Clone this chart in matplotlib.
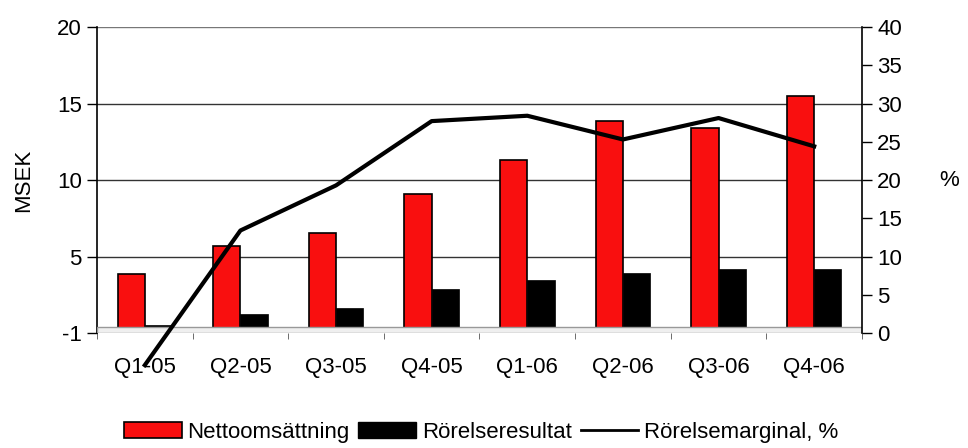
import numpy as np
import matplotlib.pyplot as plt
from matplotlib.patches import Patch
from matplotlib.lines import Line2D

plt.rcParams['font.family'] = ['Liberation Sans', 'DejaVu Sans']

# data
quarters = ['Q1-05', 'Q2-05', 'Q3-05', 'Q4-05', 'Q1-06', 'Q2-06', 'Q3-06', 'Q4-06']
netto = [3.85, 5.7, 6.55, 9.07, 11.28, 13.85, 13.4, 15.5]
resultat = [0.52, 1.22, 1.61, 2.85, 3.44, 3.89, 4.2, 4.2]
marginal = [-4.2, 13.4, 19.3, 27.7, 28.4, 25.3, 28.1, 24.4]
left_ticks = [0, 5, 10, 15, 20]
left_labels = ['-1', '5', '10', '15', '20']

x = np.arange(len(quarters))
w = 0.285
fs = 16

fig = plt.figure(figsize=(9.68, 4.48), dpi=100)
ax = fig.add_axes([0.1002, 0.2567, 0.7903, 0.683])
ax2 = ax.twinx()

ax.set_xlim(-0.5, len(quarters) - 0.5)
ax.set_ylim(0, 20)
ax2.set_ylim(0, 40)

# gridlines
for t in [5, 10, 15]:
    ax.axhline(t, color='#333333', lw=1.0, zorder=0)
ax.axhline(20, color='#777777', lw=1.0, zorder=0)

ax.bar(x - w / 2, netto, w, color='#f90f0f', edgecolor='black', lw=1.2, zorder=2)
ax.bar(x + w / 2, resultat, w, color='black', edgecolor='black', lw=0.5, zorder=2)
# floor band
ax.axhspan(0, 0.4, facecolor='#efefef', edgecolor='#999999', lw=1.0, zorder=3)

ax2.plot(x, marginal, color='black', lw=3, clip_on=False, zorder=4)

ax.set_yticks(left_ticks)
ax.set_yticklabels(left_labels)
ax2.set_yticks(range(0, 41, 5))
ax.set_xticks(x)
ax.set_xticklabels(quarters)
ax.set_xticks(np.arange(-0.5, len(quarters), 1), minor=True)
ax.tick_params(axis='x', which='major', length=0, pad=17, labelsize=fs)
ax.tick_params(axis='x', which='minor', length=4, direction='out', color='#555555')
ax.tick_params(axis='y', length=7, width=1, labelsize=fs, pad=4)
ax2.tick_params(axis='y', length=7, width=1, labelsize=fs, pad=4)

for a in (ax, ax2):
    a.spines['top'].set_visible(False)
    a.spines['bottom'].set_visible(False)
ax.spines['right'].set_visible(False)
ax2.spines['left'].set_visible(False)
ax.spines['left'].set_linewidth(1.2)
ax2.spines['right'].set_linewidth(1.2)

ax.set_ylabel('MSEK', fontsize=fs, labelpad=16)
ax2.set_ylabel('%', fontsize=fs, rotation=0, labelpad=34, va='center')

ax.set_zorder(ax2.get_zorder() - 1)
ax.patch.set_visible(True)
ax2.patch.set_visible(False)

handles = [Patch(facecolor='#f90f0f', edgecolor='black', lw=1.2),
           Patch(facecolor='black', edgecolor='black'),
           Line2D([0], [0], color='black', lw=2)]
fig.legend(handles, ['Nettoomsättning', 'Rörelseresultat', 'Rörelsemarginal, %'],
           loc='center', bbox_to_anchor=(0.497, 0.035), ncol=3, frameon=False,
           fontsize=fs, handlelength=2.6, handleheight=0.7, handletextpad=0.25,
           columnspacing=0.4)

fig.savefig('out.png', dpi=100)
